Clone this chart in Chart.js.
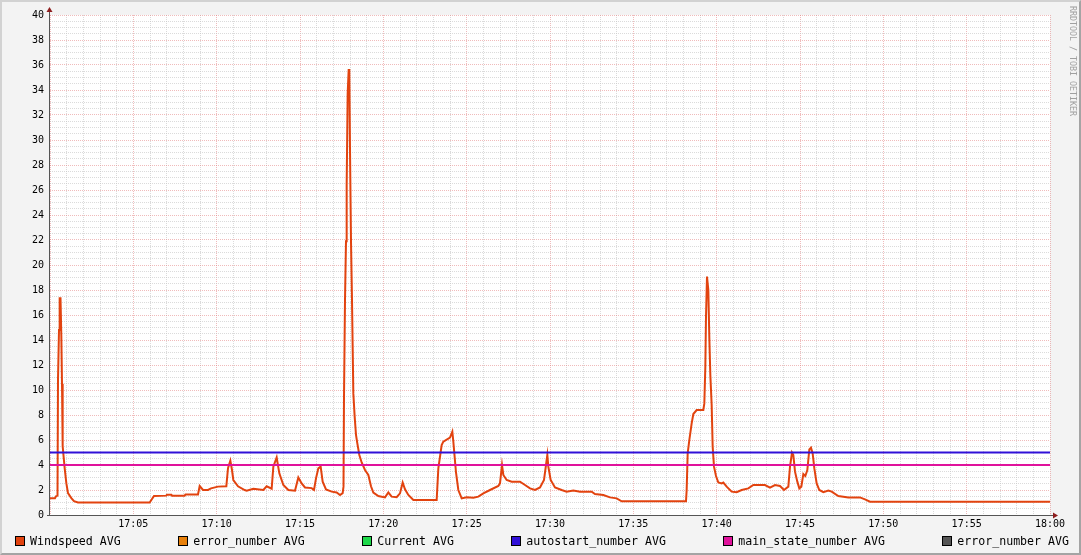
<!DOCTYPE html>
<html>
<head>
<meta charset="utf-8">
<script src="https://cdn.jsdelivr.net/npm/chart.js@4/dist/chart.umd.min.js"></script>
<style>
  html, body { margin: 0; padding: 0; background: #f3f3f3; }
  #wrap { position: relative; width: 1081px; height: 555px; background: #f3f3f3; overflow: hidden; }
  #box { position: absolute; left: 0; top: 0; width: 1081px; height: 555px; }
  #frame { position: absolute; inset: 0; box-sizing: border-box; border: 2px solid; border-color: #d2d2d2 #a4a4a4 #a4a4a4 #d2d2d2; pointer-events: none; }
  #legend { position: absolute; left: 15px; right: 12px; top: 535px; display: flex; justify-content: space-between;
            font-family: "DejaVu Sans Mono", monospace; font-size: 11.6px; color: #000; line-height: 12px; }
  .item { display: flex; align-items: center; white-space: pre; }
  .sw { width: 8px; height: 8px; border: 1px solid #000; margin-right: 5px; }
  #stamp { position: absolute; left: 1068px; top: 6px; writing-mode: vertical-rl; font-family: "DejaVu Sans Mono", monospace;
           font-size: 8.3px; color: #a0a0a0; white-space: pre; }
</style>
</head>
<body>
<div id="wrap">
  <div id="box"><canvas id="chart"></canvas></div>
  <div id="legend"></div>
  <div id="stamp">RRDTOOL / TOBI OETIKER</div>
  <div id="frame"></div>
</div>
<script>
// minutes after 17:00
const windTimes = [
  0.00, 0.30, 0.36, 0.45, 0.48, 0.54, 0.58, 0.63, 0.68, 0.72, 0.76, 0.88, 0.98, 1.08, 1.28, 1.44, 1.68,
  5.98, 6.24, 6.98, 7.02, 7.28, 7.32, 8.08, 8.13, 8.88, 8.98, 9.18, 9.48, 9.66, 10.08, 10.58, 10.68, 10.82,
  10.92, 11.00, 11.28, 11.68, 11.80, 12.20, 12.80, 13.00, 13.30, 13.40, 13.60, 13.76, 14.00, 14.30, 14.70,
  14.90, 15.10, 15.30, 15.70, 15.84, 15.96, 16.10, 16.24, 16.36, 16.56, 16.90, 17.20, 17.40, 17.56, 17.61,
  17.64, 17.70, 17.76, 17.80, 17.86, 17.92, 17.96, 18.00, 18.06, 18.12, 18.20, 18.28, 18.36, 18.44, 18.56,
  18.70, 18.90, 19.10, 19.26, 19.40, 19.70, 20.10, 20.30, 20.50, 20.80, 21.00, 21.16, 21.30, 21.50, 21.80,
  23.20, 23.30, 23.50, 23.60, 24.00, 24.14, 24.20, 24.36, 24.50, 24.70, 25.00, 25.40, 25.70, 26.00, 26.40,
  26.90, 27.00, 27.12, 27.20, 27.40, 27.70, 28.20, 28.50, 28.80, 29.10, 29.40, 29.64, 29.76, 29.84, 29.90,
  30.04, 30.30, 30.70, 31.00, 31.40, 31.80, 32.50, 32.70, 33.20, 33.60, 34.00, 34.30,
  38.16, 38.20, 38.26, 38.36, 38.50, 38.60, 38.80, 39.20, 39.26, 39.32, 39.36, 39.42, 39.50, 39.56, 39.62,
  39.70, 39.76, 39.84, 39.96, 40.10, 40.30, 40.40, 40.60, 40.90, 41.20, 41.50, 41.90, 42.20, 42.90, 43.20,
  43.50, 43.80, 44.04, 44.30, 44.40, 44.52, 44.60, 44.70, 44.84, 44.96, 45.08, 45.20, 45.32, 45.44, 45.56,
  45.66, 45.76, 45.86, 46.00, 46.16, 46.40, 46.70, 46.90, 47.30, 47.90, 48.60, 48.90, 49.20, 60.00
];
const windValues = [
  1.35, 1.35, 1.50, 1.55, 10.8, 14.8, 17.35, 17.35, 14.3, 10.5, 5.5, 3.75, 2.55, 1.75, 1.35, 1.1, 1.0,
  1.0, 1.52, 1.55, 1.63, 1.63, 1.55, 1.55, 1.65, 1.65, 2.32, 2.0, 2.0, 2.13, 2.27, 2.3, 3.75, 4.35,
  3.6, 2.8, 2.3, 2.0, 1.95, 2.1, 2.0, 2.3, 2.1, 3.87, 4.6, 3.33, 2.4, 2.0, 1.95,
  3.0, 2.53, 2.2, 2.15, 2.0, 2.93, 3.73, 3.87, 2.67, 2.05, 1.87, 1.8, 1.6, 1.75, 2.27,
  9.47, 17.2, 21.9, 26.4, 33.7, 35.6, 35.6, 29.2, 21.9, 17.2, 9.73, 7.87, 6.4, 5.73, 4.8,
  4.2, 3.6, 3.2, 2.3, 1.8, 1.52, 1.41, 1.8, 1.47, 1.42, 1.73, 2.6, 2.05, 1.6, 1.2,
  1.2, 3.73, 5.6, 5.87, 6.2, 6.67, 5.87, 3.4, 2.0, 1.33, 1.41, 1.38, 1.47, 1.73, 2.0,
  2.32, 2.53, 4.0, 3.2, 2.8, 2.67, 2.67, 2.4, 2.13, 2.0, 2.2, 2.8, 4.0, 4.8, 3.87,
  2.8, 2.2, 2.0, 1.87, 1.95, 1.87, 1.87, 1.68, 1.6, 1.41, 1.33, 1.1,
  1.1, 2.0, 4.93, 6.0, 7.33, 8.08, 8.4, 8.4, 8.93, 11.87, 15.87, 19.07, 18.0, 14.13, 11.2,
  8.8, 5.47, 3.87, 3.12, 2.6, 2.53, 2.6, 2.27, 1.87, 1.83, 2.0, 2.13, 2.4, 2.4, 2.19,
  2.4, 2.32, 2.0, 2.27, 3.87, 4.99, 4.8, 3.47, 2.67, 2.13, 2.27, 3.28, 3.12, 3.6, 5.25,
  5.39, 4.93, 3.73, 2.53, 2.0, 1.83, 1.95, 1.87, 1.52, 1.41, 1.41, 1.25, 1.07, 1.07
];
const autostartValue = 5;
const mainStateValue = 4;

const seriesNames = ['Windspeed AVG', 'error_number AVG', 'Current AVG', 'autostart_number AVG', 'main_state_number AVG', 'error_number AVG'];
const seriesColors = ['#e2430f', '#e8800a', '#1ed84a', '#3010d8', '#e0129c', '#555555'];

const timeTicks = [5, 10, 15, 20, 25, 30, 35, 40, 45, 50, 55, 60];
const timeLabels = ['17:05', '17:10', '17:15', '17:20', '17:25', '17:30', '17:35', '17:40', '17:45', '17:50', '17:55', '18:00'];

const windData = windTimes.map((t, i) => ({ x: t, y: windValues[i] }));
const flat = v => [{ x: 0, y: v }, { x: 60, y: v }];

const seriesData = [windData, [], [], flat(autostartValue), flat(mainStateValue), []];

const datasets = seriesNames.map((name, i) => ({
  label: name,
  data: seriesData[i],
  borderColor: seriesColors[i],
  backgroundColor: seriesColors[i],
  borderWidth: 2,
  pointRadius: 0,
  tension: 0,
  fill: false,
  order: i === 0 ? 10 : 6 - i
}));

// html legend, spread out like rrdtool does it
const legendEl = document.getElementById('legend');
datasets.forEach(ds => {
  const item = document.createElement('div');
  item.className = 'item';
  const sw = document.createElement('span');
  sw.className = 'sw';
  sw.style.background = ds.borderColor;
  item.appendChild(sw);
  item.appendChild(document.createTextNode(ds.label));
  legendEl.appendChild(item);
});

const MINOR = 'rgba(195,195,195,0.6)';
const MAJOR = 'rgba(225,120,120,0.5)';

// white plot area, axis lines and the little red arrows
const rrdFrame = {
  id: 'rrdFrame',
  beforeDraw(chart) {
    const { ctx, chartArea: a } = chart;
    ctx.save();
    ctx.fillStyle = '#ffffff';
    ctx.fillRect(a.left, a.top, a.right - a.left, a.bottom - a.top);
    ctx.restore();
  },
  afterDatasetsDraw(chart) {
    const { ctx, chartArea: a } = chart;
    ctx.save();
    ctx.strokeStyle = '#555555';
    ctx.lineWidth = 1;
    ctx.beginPath();
    ctx.moveTo(a.left - 0.5, a.bottom + 0.5);
    ctx.lineTo(a.left - 0.5, a.top - 5);
    ctx.moveTo(a.left - 3, a.bottom + 0.5);
    ctx.lineTo(a.right + 5, a.bottom + 0.5);
    ctx.stroke();
    ctx.fillStyle = '#8e1d1d';
    ctx.beginPath();
    ctx.moveTo(a.left - 3.5, a.top - 3);
    ctx.lineTo(a.left + 2.5, a.top - 3);
    ctx.lineTo(a.left - 0.5, a.top - 8);
    ctx.closePath();
    ctx.fill();
    ctx.beginPath();
    ctx.moveTo(a.right + 3, a.bottom - 2.5);
    ctx.lineTo(a.right + 3, a.bottom + 3.5);
    ctx.lineTo(a.right + 8, a.bottom + 0.5);
    ctx.closePath();
    ctx.fill();
    ctx.restore();
  }
};

const tickFont = { family: '"DejaVu Sans Mono", monospace', size: 10 };

new Chart(document.getElementById('chart'), {
  type: 'line',
  data: { datasets: datasets },
  options: {
    responsive: true,
    maintainAspectRatio: false,
    animation: false,
    events: [],
    layout: { padding: { top: 15, right: 31, bottom: 0, left: 0 } },
    plugins: { legend: { display: false }, tooltip: { enabled: false }, title: { display: false } },
    scales: {
      x: {
        type: 'linear',
        min: 0,
        max: 60,
        afterFit: s => { s.height = 40; },
        afterBuildTicks: s => { s.ticks = Array.from({ length: 61 }, (_, i) => ({ value: i })); },
        ticks: {
          autoSkip: false,
          maxRotation: 0,
          padding: 3,
          color: '#000',
          font: tickFont,
          callback: v => {
            const k = timeTicks.indexOf(v);
            return k >= 0 ? timeLabels[k] : '';
          }
        },
        grid: {
          drawTicks: false,
          lineWidth: 1,
          color: c => (c.tick && c.tick.value % 5 === 0 ? MAJOR : MINOR)
        },
        border: { display: false, dash: [1, 1] }
      },
      y: {
        min: 0,
        max: 40,
        afterFit: s => { s.width = 50; },
        afterBuildTicks: s => { s.ticks = Array.from({ length: 81 }, (_, i) => ({ value: i / 2 })); },
        ticks: {
          autoSkip: false,
          padding: 6,
          color: '#000',
          font: tickFont,
          callback: v => (v % 2 === 0 ? String(v) : '')
        },
        grid: {
          drawTicks: false,
          lineWidth: 1,
          color: c => (c.tick && c.tick.value % 2 === 0 ? MAJOR : MINOR)
        },
        border: { display: false, dash: [1, 1] }
      }
    }
  },
  plugins: [rrdFrame]
});
</script>
</body>
</html>
